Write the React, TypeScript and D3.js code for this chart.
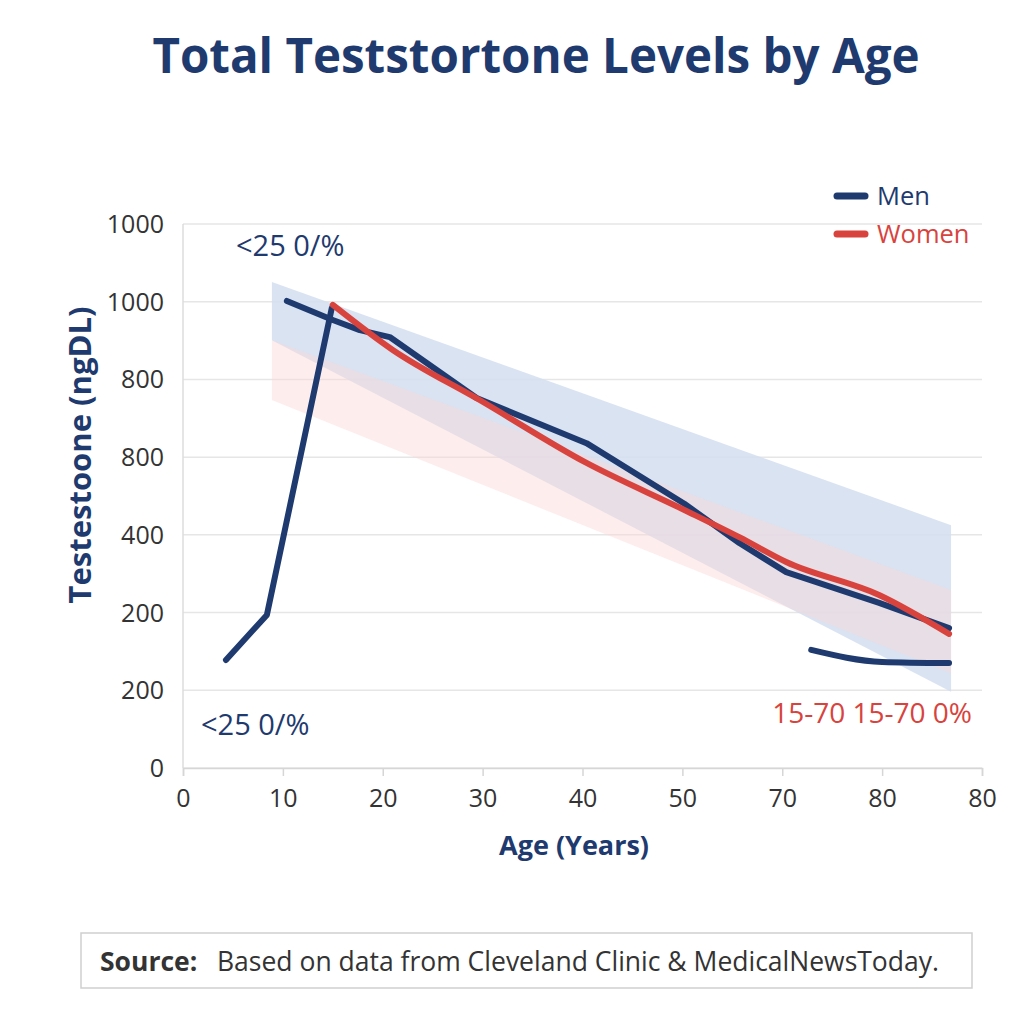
import { useEffect, useRef } from 'react';
import * as d3 from 'd3';

type Pt = [number, number];

// tick positions and the (odd) labels shown on the chart
const yTicks = [0, 200, 400, 600, 800, 1000, 1200, 1400];
const yTickLabels = ['0', '200', '200', '400', '800', '800', '1000', '1000'];
const xTicks = [0, 10, 20, 30, 40, 50, 60, 70, 80];
const xTickLabels = ['0', '10', '20', '30', '40', '50', '70', '80', '80'];

// series (age, ng/dL in axis units)
const menEarly: Pt[] = [[4.3, 278], [8.4, 394], [14.9, 1184]];
const menMain: Pt[] = [
  [10.4, 1202], [15.0, 1153], [17.7, 1127], [20.7, 1109], [29.4, 952],
  [40.4, 836], [50.2, 680], [55.7, 579], [60.4, 504], [69.7, 425], [76.7, 360],
];
const menLate: Pt[] = [[62.9, 304], [70.0, 273], [76.7, 270]];
const women: Pt[] = [
  [15.0, 1192], [21.0, 1076], [29.7, 947], [40.4, 785], [50.2, 664],
  [55.7, 594], [60.4, 530], [69.7, 445], [76.7, 345],
];

// reference ranges: [age, low, high]
const menBand: [number, number, number][] = [[8.9, 1101, 1251], [76.9, 196, 625]];
const womenBand: [number, number, number][] = [[8.9, 947, 1101], [76.9, 244, 458]];

const NAVY = '#1e3a6e';
const RED = '#d8433d';
const FONT = '"Open Sans", sans-serif';

const App: React.FC = () => {
  const svgRef = useRef<SVGSVGElement | null>(null);

  useEffect(() => {
    if (svgRef.current === null) return;
    const svg = d3.select(svgRef.current);
    svg.selectAll('*').remove();

    const x = d3.scaleLinear().domain([0, 80]).range([183, 982]);
    const y = d3.scaleLinear().domain([0, 1400]).range([768, 224]);

    svg.append('rect').attr('width', 1024).attr('height', 1024).attr('fill', '#fff');

    // title
    svg
      .append('text')
      .attr('x', 536)
      .attr('y', 73)
      .attr('text-anchor', 'middle')
      .attr('fill', NAVY)
      .style('font-family', FONT)
      .style('font-weight', 700)
      .style('font-size', '47.5px')
      .text('Total Teststortone Levels by Age');

    // gridlines
    svg
      .selectAll('.grid')
      .data(yTicks)
      .enter()
      .append('line')
      .attr('x1', x(0))
      .attr('x2', x(80))
      .attr('y1', (d) => y(d))
      .attr('y2', (d) => y(d))
      .attr('stroke', '#e6e6e6')
      .attr('stroke-width', 1.5);

    svg
      .append('line')
      .attr('x1', x(0))
      .attr('x2', x(0))
      .attr('y1', y(1400))
      .attr('y2', y(0))
      .attr('stroke', '#dcdcdc')
      .attr('stroke-width', 1.5);

    // y tick labels
    svg
      .selectAll('.ytick')
      .data(yTicks)
      .enter()
      .append('text')
      .attr('x', 164)
      .attr('y', (d) => y(d) + 9)
      .attr('text-anchor', 'end')
      .attr('fill', '#333')
      .style('font-family', FONT)
      .style('font-size', '25px')
      .text((_, i) => yTickLabels[i]);

    // x axis
    const xAxis = svg
      .append('g')
      .attr('transform', `translate(0,${y(0)})`)
      .call(
        d3
          .axisBottom(x)
          .tickValues(xTicks)
          .tickSize(8)
          .tickFormat((_, i) => xTickLabels[i])
      );
    xAxis.select('.domain').attr('stroke', '#d6d6d6').attr('stroke-width', 1.5);
    xAxis.selectAll('.tick line').attr('stroke', '#d6d6d6').attr('stroke-width', 1.5);
    xAxis
      .selectAll('.tick text')
      .attr('y', 21)
      .attr('fill', '#333')
      .style('font-family', FONT)
      .style('font-size', '25px');

    // axis titles
    svg
      .append('text')
      .attr('x', 574)
      .attr('y', 855)
      .attr('text-anchor', 'middle')
      .attr('fill', NAVY)
      .style('font-family', FONT)
      .style('font-weight', 700)
      .style('font-size', '27px')
      .text('Age (Years)');

    svg
      .append('text')
      .attr('transform', `translate(91,455) rotate(-90)`)
      .attr('text-anchor', 'middle')
      .attr('fill', NAVY)
      .style('font-family', FONT)
      .style('font-weight', 700)
      .style('font-size', '31px')
      .text('Testestoone (ngDL)');

    // bands
    const area = d3
      .area<[number, number, number]>()
      .x((d) => x(d[0]))
      .y0((d) => y(d[1]))
      .y1((d) => y(d[2]));
    svg.append('path').datum(menBand).attr('d', area).attr('fill', '#d2def0').attr('opacity', 0.85);
    svg.append('path').datum(womenBand).attr('d', area).attr('fill', '#fad6d6').attr('opacity', 0.45);

    // lines
    const smooth = d3
      .line<Pt>()
      .x((d) => x(d[0]))
      .y((d) => y(d[1]))
      .curve(d3.curveMonotoneX);
    const straight = d3
      .line<Pt>()
      .x((d) => x(d[0]))
      .y((d) => y(d[1]));

    const drawLine = (data: Pt[], color: string, gen: d3.Line<Pt>) =>
      svg
        .append('path')
        .datum(data)
        .attr('d', gen)
        .attr('fill', 'none')
        .attr('stroke', color)
        .attr('stroke-width', 6)
        .attr('stroke-linecap', 'round')
        .attr('stroke-linejoin', 'round');

    drawLine(menEarly, NAVY, straight);
    drawLine(menMain, NAVY, straight);
    drawLine(menLate, NAVY, smooth);
    drawLine(women, RED, smooth);

    // annotations
    const note = (tx: number, ty: number, label: string, color: string, size: number, anchor = 'start') =>
      svg
        .append('text')
        .attr('x', tx)
        .attr('y', ty)
        .attr('text-anchor', anchor)
        .attr('fill', color)
        .style('font-family', FONT)
        .style('font-size', `${size}px`)
        .text(label);

    note(236, 256, '<25 0/%', NAVY, 29);
    note(201, 735, '<25 0/%', NAVY, 29);
    note(972, 723, '15-70 15-70 0%', RED, 28, 'end');

    // legend
    const legend = [
      { label: 'Men', color: NAVY },
      { label: 'Women', color: RED },
    ];
    legend.forEach((l, i) => {
      const ly = 196 + i * 38;
      svg
        .append('line')
        .attr('x1', 837)
        .attr('x2', 865)
        .attr('y1', ly)
        .attr('y2', ly)
        .attr('stroke', l.color)
        .attr('stroke-width', 7)
        .attr('stroke-linecap', 'round');
      svg
        .append('text')
        .attr('x', 877)
        .attr('y', ly + 9)
        .attr('fill', l.color)
        .style('font-family', FONT)
        .style('font-size', '25.5px')
        .text(l.label);
    });

    // source box
    svg
      .append('rect')
      .attr('x', 81)
      .attr('y', 933)
      .attr('width', 891)
      .attr('height', 55)
      .attr('fill', '#fff')
      .attr('stroke', '#cfcfcf')
      .attr('stroke-width', 1.5);
    const src = svg
      .append('text')
      .attr('x', 100)
      .attr('y', 971)
      .attr('fill', '#333')
      .style('font-family', FONT)
      .style('font-size', '26.5px');
    src.append('tspan').style('font-weight', 700).text('Source:');
    src.append('tspan').attr('x', 217).text('Based on data from Cleveland Clinic & MedicalNewsToday.');
  }, []);

  return (
    <svg
      ref={svgRef}
      width={1024}
      height={1024}
      style={{ position: 'absolute', left: 0, top: 0, display: 'block' }}
    />
  );
};

export default App;
